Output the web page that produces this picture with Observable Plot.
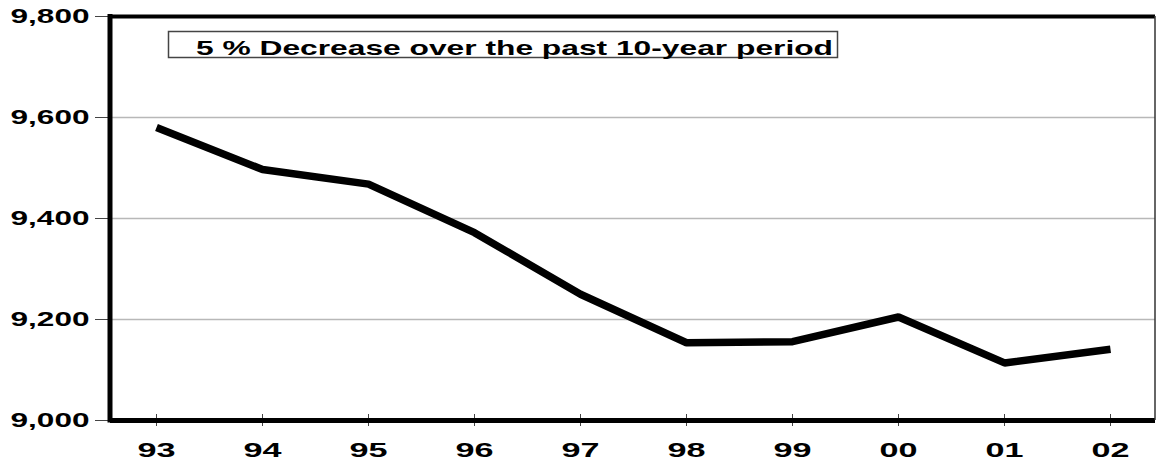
<!DOCTYPE html>
<html>
<head>
<meta charset="utf-8">
<script src="https://cdn.jsdelivr.net/npm/d3@7"></script>
<script src="https://cdn.jsdelivr.net/npm/@observablehq/plot@0.6"></script>
<style>
  html, body { margin: 0; padding: 0; background: #fff; }
  #chart svg { display: block; }
</style>
</head>
<body>
<div id="chart"></div>
<script>
const years = ["93", "94", "95", "96", "97", "98", "99", "00", "01", "02"];
const values = [9580, 9497, 9468, 9372, 9250, 9154, 9156, 9205, 9114, 9141];
const yTicks = [9000, 9200, 9400, 9600, 9800];
const gridValues = [9200, 9400, 9600];
const title = "5 % Decrease over the past 10-year period";

const data = years.map((y, i) => ({year: y, value: values[i]}));
const font = "'Liberation Sans', Arial, Helvetica, sans-serif";

const chart = Plot.plot({
  width: 1156,
  height: 464,
  marginLeft: 110,
  marginRight: 1,
  marginTop: 16,
  marginBottom: 44,
  style: {fontFamily: font, background: "#fff", color: "#000"},
  x: {type: "point", domain: years, padding: 0.4105, label: null},
  y: {domain: [9000, 9800], label: null},
  marks: [
    Plot.ruleY(gridValues, {stroke: "#b8b8b8", strokeWidth: 1.5}),
    Plot.axisY({ticks: yTicks, tickSize: 15, tickPadding: 6, tickFormat: d3.format(","),
      fontSize: 21, fontWeight: "bold", stroke: "#444", strokeWidth: 1, label: null}),
    Plot.axisX({tickSize: 12, dy: -6, tickFormat: () => "", stroke: "#444", strokeWidth: 1, label: null}),
    Plot.axisX({tickSize: 0, tickPadding: 22, fontSize: 21, fontWeight: "bold", label: null}),
    Plot.line(data, {x: "year", y: "value", stroke: "#000", strokeWidth: 7.5,
      strokeLinecap: "butt", strokeLinejoin: "miter"}),
    Plot.ruleY([9800], {stroke: "#000", strokeWidth: 4}),
    Plot.ruleY([9000], {stroke: "#000", strokeWidth: 5})
  ]
});

document.getElementById("chart").appendChild(chart);

const svg = d3.select(chart);
svg.selectAll("[aria-label='y-axis tick label'] text")
  .attr("textLength", 79).attr("lengthAdjust", "spacingAndGlyphs");
svg.selectAll("[aria-label='x-axis tick label'] text")
  .filter(function() { return this.textContent !== ""; })
  .attr("textLength", 38).attr("lengthAdjust", "spacingAndGlyphs");

// frame edges from the scales' ranges
const xr = chart.scale("x").range;
const yr = chart.scale("y").range;
const y0 = Math.min(...yr), y1 = Math.max(...yr);
const edges = svg.append("g").attr("aria-label", "frame edges");
edges.append("line")
  .attr("x1", xr[1]).attr("x2", xr[1]).attr("y1", y0).attr("y2", y1)
  .attr("stroke", "#333").attr("stroke-width", 1.5);
edges.append("line")
  .attr("x1", xr[0]).attr("x2", xr[0]).attr("y1", y0 - 2).attr("y2", y1 + 2.5)
  .attr("stroke", "#000").attr("stroke-width", 5);

// annotation box
const g = svg.append("g").attr("aria-label", "annotation");
g.append("rect")
  .attr("x", 168.5).attr("y", 31.5).attr("width", 669).attr("height", 26)
  .attr("fill", "#fff").attr("stroke", "#444").attr("stroke-width", 1.5);
g.append("text")
  .attr("x", 196).attr("y", 54.5)
  .attr("text-anchor", "start")
  .attr("font-family", font).attr("font-size", 20.5).attr("font-weight", "bold")
  .attr("fill", "#000")
  .attr("textLength", 637).attr("lengthAdjust", "spacingAndGlyphs")
  .text(title);
</script>
</body>
</html>
